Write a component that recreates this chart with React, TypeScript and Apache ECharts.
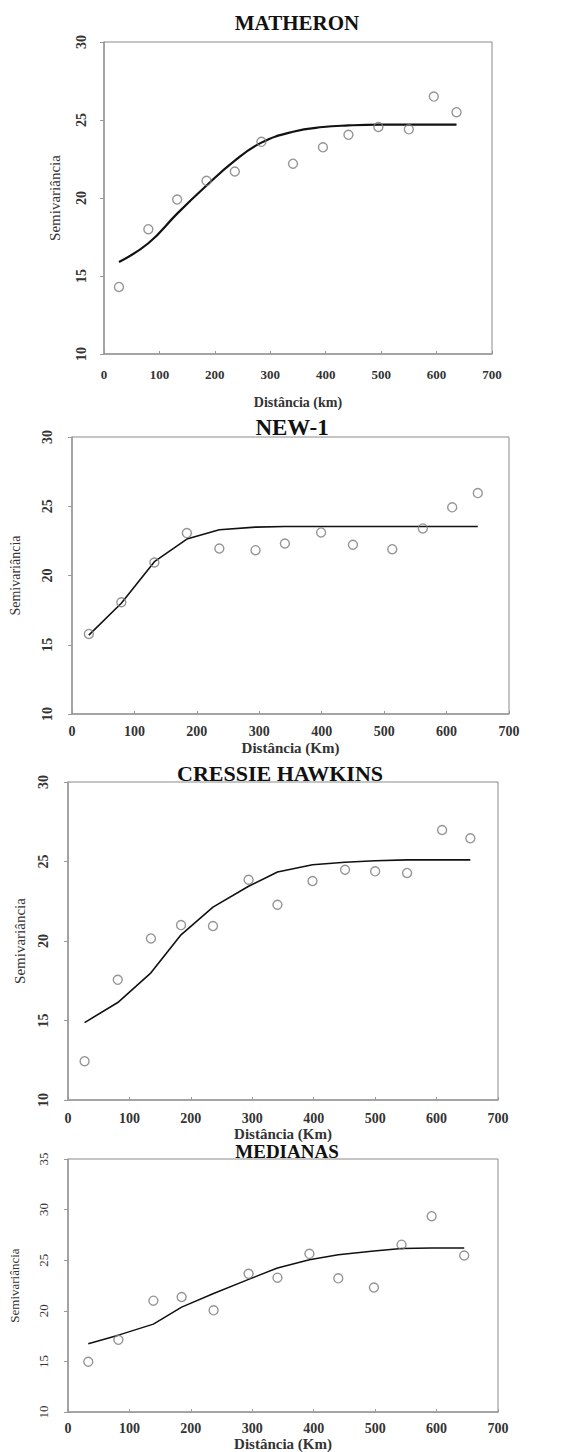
import React, { useEffect, useRef } from "react";
import * as echarts from "echarts";

// ---- DATA ----
// MATHERON
const matheronX = [27, 80, 132, 185, 236, 284, 341, 395, 441, 495, 550, 595, 636];
const matheronObs = [14.3, 18.0, 19.9, 21.1, 21.7, 23.6, 22.2, 23.25, 24.05, 24.55, 24.4, 26.5, 25.5];
const matheronFit = [15.9, 17.1, 19.0, 20.8, 22.4, 23.55, 24.25, 24.55, 24.65, 24.7, 24.7, 24.7, 24.7];

// NEW-1
const new1X = [27, 79, 132, 184, 236, 294, 341, 399, 450, 513, 562, 609, 650];
const new1Obs = [15.78, 18.07, 20.94, 23.06, 21.95, 21.83, 22.31, 23.11, 22.22, 21.9, 23.4, 24.92, 25.95];
const new1Fit = [15.7, 18.0, 21.0, 22.63, 23.3, 23.49, 23.54, 23.54, 23.54, 23.54, 23.54, 23.54, 23.54];

// CRESSIE HAWKINS
const cressieX = [27, 81, 135, 184, 236, 294, 341, 398, 451, 500, 552, 609, 655];
const cressieObs = [12.44, 17.56, 20.16, 21.0, 20.94, 23.85, 22.28, 23.77, 24.48, 24.38, 24.28, 26.98, 26.46];
const cressieFit = [14.87, 16.13, 18.0, 20.39, 22.13, 23.44, 24.34, 24.8, 24.95, 25.05, 25.1, 25.1, 25.1];

// MEDIANAS
const medianasX = [33, 82, 139, 185, 237, 294, 341, 393, 440, 498, 543, 592, 645];
const medianasObs = [14.97, 17.14, 21.01, 21.37, 20.05, 23.66, 23.28, 25.63, 23.21, 22.31, 26.54, 29.35, 25.47];
const medianasFit = [16.75, 17.6, 18.69, 20.37, 21.72, 23.11, 24.24, 25.05, 25.54, 25.92, 26.15, 26.21, 26.21];

const titles = ["MATHERON", "NEW-1", "CRESSIE HAWKINS", "MEDIANAS"];
const xNames = ["Distância (km)", "Distância (Km)", "Distância (Km)", "Distância (Km)"];
const yName = "Semivariância";

const SERIF = "'Liberation Serif', 'DejaVu Serif', serif";

export default function App() {
  const ref = useRef<HTMLDivElement>(null);

  useEffect(() => {
    document.body.style.margin = "0";
    if (!ref.current) return;
    const chart = echarts.init(ref.current, undefined, { renderer: "svg" });

    const panels = [
      { x: matheronX, obs: matheronObs, fit: matheronFit, grid: { left: 104, top: 42, width: 388, height: 312 }, yMax: 30, smooth: true, lw: 2.2,
        xLabelSize: 13, xNameSize: 14, xNameGap: 41, xLabelMargin: 14, yLabelSize: 14, yNameSize: 15, yNameGap: 42, yLabelBold: true, yLabelMargin: 16, titleX: 297, titleY: 23, titleSize: 21 },
      { x: new1X, obs: new1Obs, fit: new1Fit, grid: { left: 68, top: 437, width: 441, height: 277 }, yMax: 30, smooth: false, lw: 1.6,
        xLabelSize: 14, xNameSize: 15, xNameGap: 26, xLabelMargin: 10, yLabelSize: 14, yNameSize: 14, yNameGap: 50, yLabelBold: true, yLabelMargin: 18, titleX: 292, titleY: 427, titleSize: 23 },
      { x: cressieX, obs: cressieObs, fit: cressieFit, grid: { left: 68, top: 782, width: 430, height: 318 }, yMax: 30, smooth: false, lw: 1.6,
        xLabelSize: 14, xNameSize: 15, xNameGap: 26, xLabelMargin: 11, yLabelSize: 14, yNameSize: 15, yNameGap: 41, yLabelBold: true, yLabelMargin: 18, titleX: 280, titleY: 773, titleSize: 22 },
      { x: medianasX, obs: medianasObs, fit: medianasFit, grid: { left: 68, top: 1159, width: 430, height: 258 }, yMax: 35, smooth: false, lw: 1.5,
        xLabelSize: 14, xNameSize: 15, xNameGap: 20, xLabelMargin: 9, yLabelSize: 13, yNameSize: 13, yNameGap: 47, yLabelBold: false, yLabelMargin: 18, titleX: 287, titleY: 1151, titleSize: 19 },
    ];

    const grids: any[] = [];
    const xAxes: any[] = [];
    const yAxes: any[] = [];
    const series: any[] = [];
    const graphics: any[] = [];

    panels.forEach((p, i) => {
      grids.push({ ...p.grid, show: true, borderColor: "#8a8a8a", borderWidth: 1, containLabel: false });
      xAxes.push({
        gridIndex: i, type: "value", min: 0, max: 700, interval: 100,
        name: xNames[i], nameLocation: "middle", nameGap: p.xNameGap,
        nameTextStyle: { fontFamily: SERIF, fontSize: p.xNameSize, fontWeight: "bold", color: "#333" },
        axisLine: { show: true, lineStyle: { color: "#999", width: 1.5 } },
        axisTick: { show: true, inside: true, length: 3, lineStyle: { color: "#999" } },
        axisLabel: { fontFamily: SERIF, fontSize: p.xLabelSize, fontWeight: "bold", color: "#333", margin: p.xLabelMargin },
        splitLine: { show: false },
      });
      yAxes.push({
        gridIndex: i, type: "value", min: 10, max: p.yMax, interval: 5,
        name: yName, nameLocation: "middle", nameGap: p.yNameGap,
        nameTextStyle: { fontFamily: SERIF, fontSize: p.yNameSize, color: "#333" },
        axisLine: { show: true, lineStyle: { color: "#999", width: 1.5 } },
        axisTick: { show: true, inside: false, length: 4, lineStyle: { color: "#999" } },
        axisLabel: { fontFamily: SERIF, fontSize: p.yLabelSize, fontWeight: p.yLabelBold ? "bold" : "normal", color: "#333", rotate: 90, margin: p.yLabelMargin },
        splitLine: { show: false },
      });
      series.push({
        type: "line", xAxisIndex: i, yAxisIndex: i,
        data: p.x.map((v, k) => [v, p.fit[k]]),
        showSymbol: false, smooth: p.smooth ? 0.45 : false,
        lineStyle: { color: "#111", width: p.lw }, z: 2,
      });
      series.push({
        type: "scatter", xAxisIndex: i, yAxisIndex: i,
        data: p.x.map((v, k) => [v, p.obs[k]]),
        symbol: "circle", symbolSize: 9,
        itemStyle: { color: "rgba(255,255,255,0)", borderColor: "#7a7a7a", borderWidth: 1.4 }, z: 3,
      });
      graphics.push({
        type: "text", x: p.titleX, y: p.titleY,
        style: { text: titles[i], fontFamily: SERIF, fontSize: p.titleSize, fontWeight: "bold", fill: "#111", textAlign: "center", textVerticalAlign: "middle" },
      });
    });

    chart.setOption({
      animation: false,
      backgroundColor: "#fff",
      grid: grids,
      xAxis: xAxes,
      yAxis: yAxes,
      series,
      graphic: graphics,
    });

    return () => chart.dispose();
  }, []);

  return <div ref={ref} style={{ width: 561, height: 1452 }} />;
}
